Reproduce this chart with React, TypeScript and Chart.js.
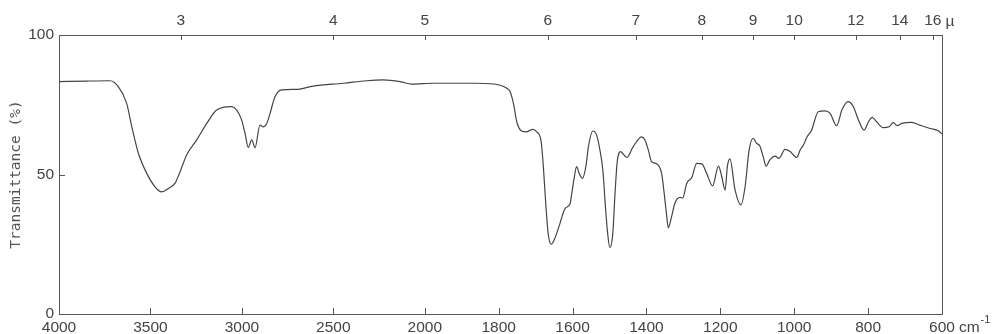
import React, { useEffect, useRef } from "react";
import { Chart, registerables } from "chart.js";

Chart.register(...registerables);

// Spectrum data: wavenumber (cm-1) and transmittance (%)
const WAVENUMBERS = [
  4000, 3850, 3721, 3676, 3630, 3602, 3566, 3520, 3475, 3438, 3402, 3366, 3338, 3302, 3247, 3192, 3138,
  3056, 3028, 3001, 2983, 2965, 2946, 2928, 2901, 2883, 2864, 2846, 2819, 2782, 2700, 2610, 2445, 2317,
  2227, 2135, 2071, 1977, 1859, 1796, 1778, 1769, 1760, 1751, 1738, 1724, 1708, 1697, 1685, 1679, 1672,
  1666, 1658, 1648, 1634, 1620, 1607, 1602, 1595, 1589, 1582, 1573, 1564, 1557, 1545, 1535, 1526, 1518,
  1511, 1505, 1499, 1491, 1485, 1479, 1470, 1453, 1437, 1413, 1404, 1395, 1386, 1372, 1359, 1352, 1345,
  1341, 1332, 1323, 1309, 1302, 1291, 1277, 1264, 1250, 1237, 1221, 1205, 1196, 1187, 1181, 1174, 1160,
  1144, 1133, 1122, 1111, 1102, 1093, 1084, 1076, 1066, 1052, 1041, 1025, 1011, 993, 984, 975, 965, 953,
  935, 917, 903, 885, 871, 854, 840, 826, 811, 799, 789, 777, 759, 743, 732, 721, 709, 682, 660, 632,
  610, 600,
];
const TRANSMITTANCE = [
  83.3, 83.5, 83.6, 81.5, 75.5, 67.1, 57.6, 50.4, 45.6, 43.8, 45.0, 46.8, 51.0, 57.0, 62.4, 68.3, 73.1,
  74.3, 73.1, 69.5, 64.8, 59.7, 62.4, 59.6, 67.7, 67.1, 68.3, 71.9, 77.9, 80.3, 80.5, 81.7, 82.7, 83.6,
  83.9, 83.3, 82.4, 82.7, 82.7, 82.0, 80.9, 79.7, 75.5, 68.9, 65.6, 65.3, 66.2, 65.3, 61.8, 52.8, 38.5,
  28.9, 25.0, 27.1, 32.5, 37.9, 39.4, 43.3, 49.2, 52.8, 50.4, 48.6, 52.8, 60.0, 65.6, 64.2, 58.8, 51.6,
  38.5, 28.9, 23.8, 28.9, 43.3, 54.6, 58.2, 56.1, 59.7, 63.5, 62.4, 58.8, 54.6, 53.8, 50.4, 43.3, 34.9,
  30.9, 34.9, 39.7, 41.8, 41.5, 46.8, 49.0, 54.0, 53.8, 50.4, 45.9, 53.0, 49.2, 44.4, 52.8, 55.6, 44.4,
  39.1, 45.6, 58.8, 63.0, 61.2, 60.2, 56.4, 53.0, 55.2, 56.6, 55.8, 59.0, 58.2, 56.1, 58.8, 60.6, 63.5, 65.9,
  72.5, 72.8, 71.9, 67.5, 73.1, 76.1, 74.3, 69.5, 65.9, 68.9, 70.5, 68.9, 66.8, 67.1, 68.6, 67.5, 68.3, 68.7, 67.7, 66.5,
  65.7, 64.5,
];

const BOTTOM_TICKS = [4000, 3500, 3000, 2500, 2000, 1800, 1600, 1400, 1200, 1000, 800, 600];
const TOP_TICKS_MICRON = [3, 4, 5, 6, 7, 8, 9, 10, 12, 14, 16];
const Y_TICKS = [0, 50, 100];

const Y_TITLE = "Transmittance (%)";
const X_UNIT = "cm";
const X_UNIT_EXP = "-1";
const TOP_UNIT = "µ";

// Chart geometry / style
const W = 993;
const H = 334;
const AXIS_COLOR = "#555";
const LINE_COLOR = "#444";
const TEXT_COLOR = "#444";
const TICK_FONT_FAMILY = "'Liberation Sans', Arial, sans-serif";
const TICK_FONT_SIZE = 15.5;

// Wavenumber axis: scale changes (x2) at 2000 cm-1
const BREAK = 2000;
const HIGH_FACTOR = 0.495;
function toAxis(wn: number): number {
  return wn >= BREAK
    ? (4000 - wn) * HIGH_FACTOR
    : (4000 - BREAK) * HIGH_FACTOR + (BREAK - wn);
}
const X_MIN = toAxis(4000);
const X_MAX = toAxis(600);

const inwardTicks = {
  id: "inwardTicks",
  afterDraw(chart: any) {
    const { ctx, chartArea, scales } = chart;
    const { left, right, top, bottom } = chartArea;
    ctx.save();
    ctx.strokeStyle = AXIS_COLOR;
    ctx.lineWidth = 1;
    ctx.beginPath();
    scales.x.ticks.forEach((t: any) => {
      const px = Math.round(scales.x.getPixelForValue(t.value)) + 0.5;
      ctx.moveTo(px, bottom);
      ctx.lineTo(px, bottom - 6);
    });
    scales.x2.ticks.forEach((t: any) => {
      const px = Math.round(scales.x2.getPixelForValue(t.value)) + 0.5;
      ctx.moveTo(px, top);
      ctx.lineTo(px, top + 5);
    });
    scales.y.ticks.forEach((t: any) => {
      const py = Math.round(scales.y.getPixelForValue(t.value)) + 0.5;
      ctx.moveTo(left, py);
      ctx.lineTo(left + 6, py);
    });
    ctx.stroke();

    // unit labels
    ctx.fillStyle = TEXT_COLOR;
    ctx.font = `${TICK_FONT_SIZE}px ${TICK_FONT_FAMILY}`;
    ctx.textBaseline = "middle";
    ctx.textAlign = "left";
    const lastBottom = BOTTOM_TICKS[BOTTOM_TICKS.length - 1];
    const p600 = scales.x.getPixelForValue(toAxis(lastBottom));
    const w600 = ctx.measureText(String(lastBottom)).width;
    const xCm = p600 + w600 / 2 + 4;
    const yLab = bottom + 4 + (TICK_FONT_SIZE * 1.2) / 2;
    ctx.fillText(X_UNIT, xCm, yLab);
    const wCm = ctx.measureText(X_UNIT).width;
    ctx.font = `11px ${TICK_FONT_FAMILY}`;
    ctx.fillText(X_UNIT_EXP, xCm + wCm + 1, yLab - 7);

    ctx.font = `${TICK_FONT_SIZE}px ${TICK_FONT_FAMILY}`;
    const lastTop = TOP_TICKS_MICRON[TOP_TICKS_MICRON.length - 1];
    const p16 = scales.x2.getPixelForValue(toAxis(10000 / lastTop));
    const w16 = ctx.measureText(String(lastTop)).width;
    ctx.fillText(TOP_UNIT, p16 + w16 / 2 + 4, top - 4 - (TICK_FONT_SIZE * 1.2) / 2);
    ctx.restore();
    void right;
  },
};

export default function App() {
  const canvasRef = useRef<HTMLCanvasElement | null>(null);

  useEffect(() => {
    if (!canvasRef.current) return;
    const tickFont = { family: TICK_FONT_FAMILY, size: TICK_FONT_SIZE };
    const points = WAVENUMBERS.map((wn, i) => ({ x: toAxis(wn), y: TRANSMITTANCE[i] }));
    const border = { display: true, color: AXIS_COLOR, width: 1 };

    const chart = new Chart(canvasRef.current, {
      type: "line",
      data: {
        datasets: [
          {
            data: points,
            borderColor: LINE_COLOR,
            borderWidth: 1.2,
            pointRadius: 0,
            fill: false,
            cubicInterpolationMode: "monotone",
          },
        ],
      },
      options: {
        animation: false,
        responsive: false,
        maintainAspectRatio: false,
        layout: { padding: 0 },
        plugins: { legend: { display: false }, tooltip: { enabled: false } },
        scales: {
          x: {
            type: "linear",
            position: "bottom",
            min: X_MIN,
            max: X_MAX,
            afterBuildTicks: (scale: any) => {
              scale.ticks = BOTTOM_TICKS.map((wn) => ({ value: toAxis(wn) }));
            },
            afterFit: (scale: any) => {
              scale.height = H - 314;
            },
            ticks: {
              autoSkip: false,
              maxRotation: 0,
              padding: 4,
              color: TEXT_COLOR,
              font: tickFont,
              callback: (_v: any, i: number) => String(BOTTOM_TICKS[i]),
            },
            grid: { display: false, drawTicks: false },
            border,
          },
          x2: {
            type: "linear",
            position: "top",
            min: X_MIN,
            max: X_MAX,
            afterBuildTicks: (scale: any) => {
              scale.ticks = TOP_TICKS_MICRON.map((mu) => ({ value: toAxis(10000 / mu) }));
            },
            afterFit: (scale: any) => {
              scale.height = 35;
            },
            ticks: {
              autoSkip: false,
              maxRotation: 0,
              padding: 5,
              color: TEXT_COLOR,
              font: tickFont,
              callback: (_v: any, i: number) => String(TOP_TICKS_MICRON[i]),
            },
            grid: { display: false, drawTicks: false },
            border,
          },
          y: {
            type: "linear",
            position: "left",
            min: 0,
            max: 100,
            afterBuildTicks: (scale: any) => {
              scale.ticks = Y_TICKS.map((v) => ({ value: v }));
            },
            afterFit: (scale: any) => {
              scale.width = 59;
            },
            ticks: {
              padding: 5,
              color: TEXT_COLOR,
              font: tickFont,
              callback: (v: any) => String(v),
            },
            title: {
              display: true,
              text: Y_TITLE,
              color: "#555",
              font: { family: "'DejaVu Sans Mono', monospace", size: 14.5 },
              padding: { top: 8, bottom: 0 },
            },
            grid: { display: false, drawTicks: false },
            border,
          },
          y2: {
            type: "linear",
            position: "right",
            min: 0,
            max: 100,
            afterFit: (scale: any) => {
              scale.width = W - 942;
            },
            ticks: { display: false },
            grid: { display: false, drawTicks: false },
            border,
          },
        },
      },
      plugins: [inwardTicks],
    } as any);

    return () => chart.destroy();
  }, []);

  return (
    <div style={{ position: "fixed", left: 0, top: 0, width: W, height: H, background: "#fff" }}>
      <canvas ref={canvasRef} width={W} height={H} style={{ display: "block" }} />
    </div>
  );
}
